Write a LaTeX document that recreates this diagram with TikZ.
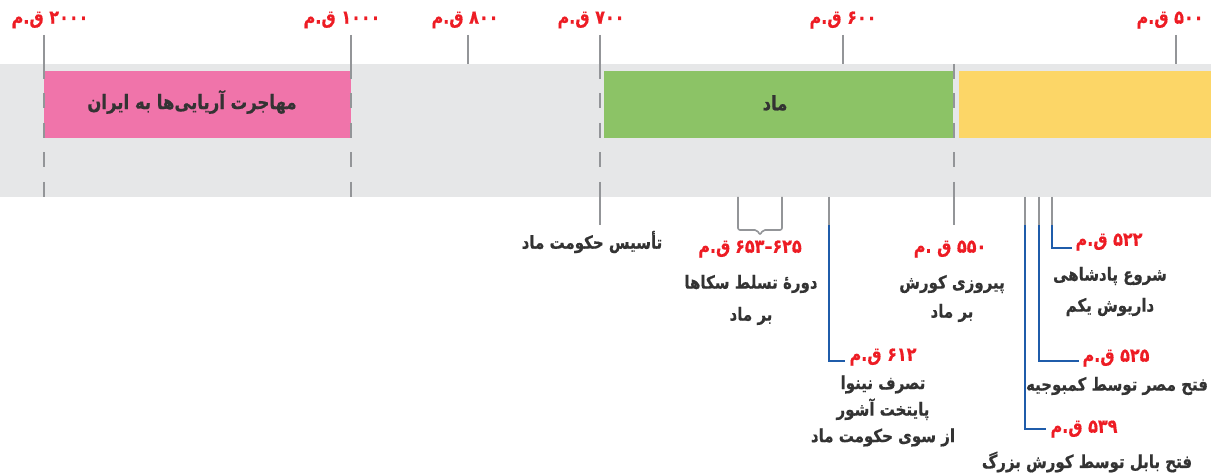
\documentclass[tikz,border=0pt]{standalone}
\usepackage{fontspec}
\usepackage{graphicx}
\TeXXeTstate=1
\newfontfamily\fa[Script=Arabic,BoldFeatures={FakeBold=0.6}]{DejaVu Sans}
\newcommand\fz[1]{\scalebox{1}[1.2]{\beginR #1\endR}}
\definecolor{bandgray}{HTML}{E6E7E8}
\definecolor{pinkbar}{HTML}{F074AA}
\definecolor{greenbar}{HTML}{8CC366}
\definecolor{yellowbar}{HTML}{FCD667}
\definecolor{redlab}{HTML}{ED1C24}
\definecolor{tickgray}{HTML}{939598}
\definecolor{blueln}{HTML}{1F5CAA}
\definecolor{txtdark}{HTML}{333333}
\tikzset{
  tickline/.style={draw=tickgray, line width=2pt},
  dashline/.style={draw=tickgray, line width=2pt, dash pattern=on 15pt off 14.5pt},
  bluel/.style={draw=blueln, line width=2.2pt},
  datelab/.style={text=redlab, font=\fa\bfseries\fontsize{16}{16}\selectfont, inner sep=0pt},
  evtxt/.style={text=txtdark, font=\fa\bfseries\fontsize{15}{30}\selectfont, inner sep=0pt, align=center},
  bar/.style={minimum height=67pt, inner sep=0pt, anchor=north west},
  bartxt/.style={text=txtdark, font=\fa\bfseries\fontsize{16.5}{16.5}\selectfont, inner sep=0pt},
}
\begin{document}
\begin{tikzpicture}[x=1pt,y=-1pt]
\useasboundingbox (0,0) rectangle (1211,473);
\fill[bandgray] (0,64) rectangle (1211,197);
% bars
\node[bar, fill=pinkbar, minimum width=307pt] (aryan) at (44,71) {};
\node[bar, fill=greenbar, minimum width=349pt] (mad) at (604,71) {};
\node[bar, fill=yellowbar, minimum width=252pt] (hakh) at (959,71) {};
\node[bartxt] (aryant) at (192,102) {\fz{مهاجرت آریایی‌ها به ایران}};
\node[bartxt] (madt) at (775,103) {\fz{ماد}};
% top ticks
\foreach \x in {44,351,468,600,843,954,1176}{
  \coordinate (top\x) at (\x,35);
  \coordinate (band\x) at (\x,64);
}
\foreach \x in {44,351,468,600,843,1176}{\draw[tickline] (top\x) -- (band\x);}
\foreach \x in {44,351,600,954}{\coordinate (bot\x) at (\x,197); \draw[dashline] (band\x) -- (bot\x);}
% year labels
\node[datelab] (y2000) at (50,20) {\fz{۲۰۰۰ ق.م}};
\node[datelab] (y1000) at (342,20) {\fz{۱۰۰۰ ق.م}};
\node[datelab] (y800) at (465,20) {\fz{۸۰۰ ق.م}};
\node[datelab] (y700) at (591,20) {\fz{۷۰۰ ق.م}};
\node[datelab] (y600) at (843,20) {\fz{۶۰۰ ق.م}};
\node[datelab] (y500) at (1170,20) {\fz{۵۰۰ ق.م}};
% founding of Media
\coordinate (f1) at (600,183);
\coordinate (f2) at (600,225);
\draw[tickline] (f1) -- (f2);
\node[evtxt] (tasis) at (592,242) {\fz{تأسیس حکومت ماد}};
% Scythian brace
\coordinate (b1) at (738,197);
\coordinate (b2) at (782,197);
\coordinate (bm) at (760,235);
\draw[draw=tickgray, line width=1.6pt, rounded corners=2pt] (b1) -- (738,230) -- (757,230) -- (bm) -- (763,230) -- (782,230) -- (b2);
\node[datelab] (d625) at (750,249) {\scalebox{1}[1.2]{\hbox{ق.م}\hspace{0.3em}\hbox{۶۵۳}\hbox{–}\hbox{۶۲۵}}};
\node[evtxt, font=\fa\bfseries\fontsize{15}{32}\selectfont] (skt) at (751,300) {\fz{دورهٔ تسلط سکاها}\\\fz{بر ماد}};
% 612
\coordinate (n0) at (829,197);
\coordinate (n1) at (829,225);
\coordinate (n2) at (829,361);
\coordinate (n3) at (845,361);
\draw[tickline] (n0) -- (n1);
\draw[bluel] (n1) -- (n2) -- (n3);
\node[datelab] (d612) at (883,357) {\fz{۶۱۲ ق.م}};
\node[evtxt, font=\fa\bfseries\fontsize{15}{26.5}\selectfont] (nin) at (883,411) {\fz{تصرف نینوا}\\\fz{پایتخت آشور}\\\fz{از سوی حکومت ماد}};
% 550
\coordinate (c1) at (954,183);
\coordinate (c2) at (954,225);
\draw[tickline] (c1) -- (c2);
\node[datelab] (d550) at (950,249) {\fz{۵۵۰ ق .م}};
\node[evtxt, font=\fa\bfseries\fontsize{15}{29}\selectfont] (kor) at (952,298.5) {\fz{پیروزی کورش}\\\fz{بر ماد}};
% 539
\coordinate (p0) at (1025,197);
\coordinate (p1) at (1025,225);
\coordinate (p2) at (1025,429);
\coordinate (p3) at (1046,429);
\draw[tickline] (p0) -- (p1);
\draw[bluel] (p1) -- (p2) -- (p3);
\node[datelab] (d539) at (1084,429) {\fz{۵۳۹ ق.م}};
\node[evtxt] (bab) at (1087,462) {\fz{فتح بابل توسط کورش بزرگ}};
% 525
\coordinate (e0) at (1039,197);
\coordinate (e1) at (1039,225);
\coordinate (e2) at (1039,361);
\coordinate (e3) at (1079,361);
\draw[tickline] (e0) -- (e1);
\draw[bluel] (e1) -- (e2) -- (e3);
\node[datelab] (d525) at (1116,358) {\fz{۵۲۵ ق.م}};
\node[evtxt] (egy) at (1117,386) {\fz{فتح مصر توسط کمبوجیه}};
% 522
\coordinate (g0) at (1052,197);
\coordinate (g1) at (1052,225);
\coordinate (g2) at (1052,248);
\coordinate (g3) at (1072,248);
\draw[tickline] (g0) -- (g1);
\draw[bluel] (g1) -- (g2) -- (g3);
\node[datelab] (d522) at (1109,242) {\fz{۵۲۲ ق.م}};
\node[evtxt, font=\fa\bfseries\fontsize{15}{31}\selectfont] (dar) at (1110,291.5) {\fz{شروع پادشاهی}\\\fz{داریوش یکم}};
\end{tikzpicture}
\end{document}
